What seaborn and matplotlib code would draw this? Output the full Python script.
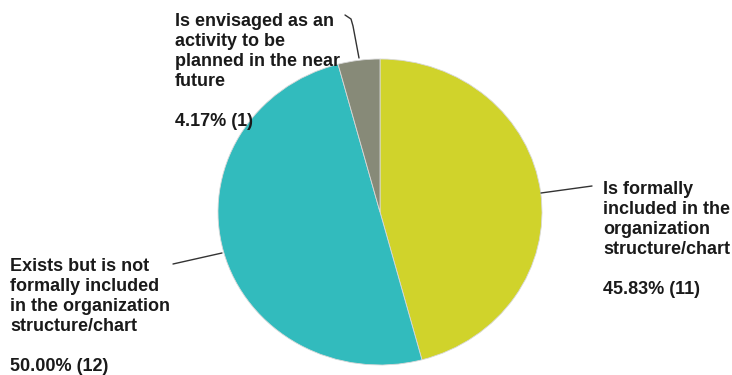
import matplotlib
matplotlib.use("Agg")
import matplotlib.pyplot as plt
import seaborn as sns

sns.set_style("white")
plt.rcParams["font.family"] = ["Liberation Sans", "DejaVu Sans"]

categories = [
    "Is formally\nincluded in the\norganization\nstructure/chart",
    "Exists but is not\nformally included\nin the organization\nstructure/chart",
    "Is envisaged as an\nactivity to be\nplanned in the near\nfuture",
]
counts = [11, 12, 1]
colors = ["#D0D32B", "#32BBBD", "#878A78"]

W, H = 732, 375
fig = plt.figure(figsize=(W / 100, H / 100), dpi=100)
ax = fig.add_axes([0, 0, 1, 1])

# pie centre and radii in pixels (top-left origin)
cx, cy, rx, ry = 380, 212, 162, 153

def px(x, y):
    """pixel (top-left origin) -> data coords"""
    return (x - cx) / rx, ((H - y) - (H - cy)) / ry

ax.pie(counts, colors=colors, startangle=90, counterclock=False, radius=1,
       wedgeprops=dict(edgecolor="#d8d8d8", linewidth=0.6))
ax.set_aspect("auto")
ax.set_xlim(-cx / rx, (W - cx) / rx)
ax.set_ylim(-(H - cy) / ry, cy / ry)
ax.axis("off")

total = sum(counts)
label_pos = [(603, 181), (10, 258), (175, 13)]
leaders = [
    [(541, 193), (592, 186)],
    [(222, 253), (173, 264)],
    [(359, 58), (353, 26), (351, 19), (345, 15)],
]
for cat, n, (lx, ly), pts in zip(categories, counts, label_pos, leaders):
    txt = f"{cat}\n\n{100 * n / total:.2f}% ({n})"
    x, y = px(lx, ly)
    ax.text(x, y, txt, ha="left", va="top", fontsize=13, fontweight="bold",
            color="#1a1a1a", linespacing=1.23)
    xs, ys = zip(*[px(a, b) for a, b in pts])
    ax.plot(xs, ys, color="#333333", lw=1.0, solid_capstyle="round")

fig.savefig("out.png", dpi=100)
